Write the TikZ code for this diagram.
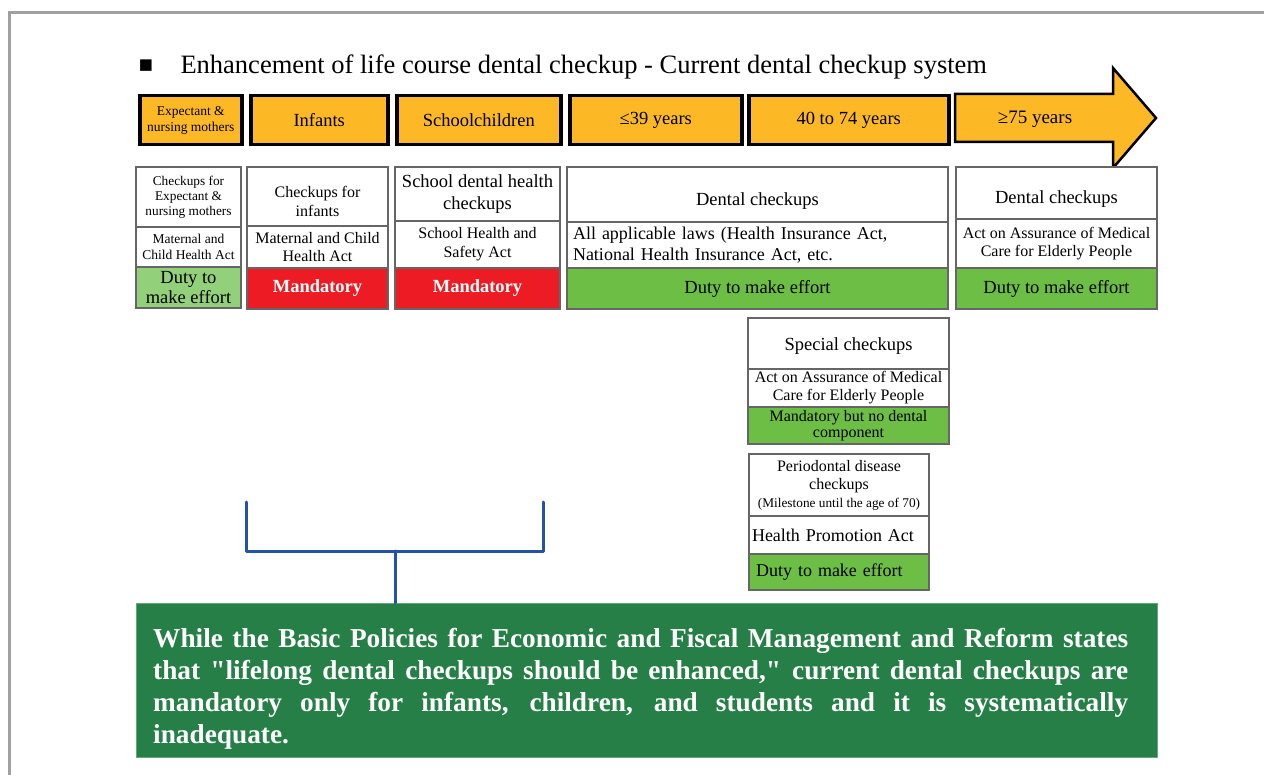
\documentclass[tikz,border=0pt]{standalone}
\usepackage{fontspec}
\setmainfont{Liberation Serif}
\newfontfamily\symfont{DejaVu Sans}

\definecolor{ageorange}{RGB}{253,184,38}
\definecolor{dutygreen}{RGB}{109,190,69}
\definecolor{paleduty}{RGB}{146,208,122}
\definecolor{mustred}{RGB}{237,28,36}
\definecolor{notegreen}{RGB}{38,127,70}
\definecolor{bracketblue}{RGB}{36,83,166}
\definecolor{framegray}{RGB}{160,160,160}

\newcommand\fsz[2]{\fontsize{#1}{#2}\selectfont}

\tikzstyle{agebox}=[rectangle, draw=black, line width=3.5, fill=ageorange, inner sep=0pt, align=center, anchor=north west, font=\fsz{18.5}{21}]
\tikzstyle{cell}=[rectangle, draw=black!60, line width=2, fill=white, inner sep=1pt, align=center, anchor=north west, font=\fsz{18.5}{22}]

\begin{document}
\begin{tikzpicture}[x=1pt, y=-1pt, duty/.style = {cell, fill=dutygreen}, must/.style = {cell, fill=mustred, text=white, font=\fsz{18.5}{21}\bfseries}, bracket/.style = {draw=bracketblue, line width=3, line cap=round, line join=round}]
    \useasboundingbox (0,0) rectangle (1264,775);
    \draw[framegray, line width=3] (9,775) -- (9,13) -- (1264,13);

    % title
    \node (bullet) at (146,66) {\symfont\fsz{15}{15}■};
    \node (title) [anchor=base west, font=\fsz{26.5}{30}] at (177,74) {Enhancement of life course dental checkup - Current dental checkup system};

    % age groups
    \node (mothers) [agebox, minimum width=102, minimum height=49, font=\fsz{13.5}{15.5}] at (138,94) {Expectant \&\\nursing mothers};
    \node (infants) [agebox, minimum width=137, minimum height=49] at (249,94) {Infants};
    \node (school) [agebox, minimum width=164, minimum height=49] at (395,94) {Schoolchildren};
    \node (young) [agebox, minimum width=172, minimum height=49] at (568,94) {≤39 years};
    \node (middle) [agebox, minimum width=200, minimum height=49] at (747,94) {40 to 74 years};
    \draw[fill=ageorange, line width=2.5, line join=miter] (955,94) -- (1113,94) -- (1113,68) -- (1156,118) -- (1113,168) -- (1113,142) -- (955,142) -- cycle;
    \node (elderly) [font=\fsz{19}{21}] at (1035,119) {≥75 years};

    % checkups per group
    \node (motherscheck) [cell, minimum width=105, minimum height=60, font=\fsz{13.3}{14.8}] at (135,166) {Checkups for\\Expectant \&\\nursing mothers};
    \node (motherslaw) [cell, minimum width=105, minimum height=40, font=\fsz{13.5}{15.5}] at (135,226) {Maternal and\\Child Health Act};
    \node (mothersduty) [cell, fill=paleduty, minimum width=105, minimum height=41, font=\fsz{18.5}{20.5}] at (135,266) {Duty to\\make effort};

    \node (infantscheck) [cell, minimum width=141, minimum height=59, font=\fsz{16}{18.5}, text height=40] at (246,166) {Checkups for\\infants};
    \node (infantslaw) [cell, minimum width=141, minimum height=42, font=\fsz{16}{18.5}] at (246,225) {Maternal and Child\\Health Act};
    \node (infantsduty) [must, minimum width=141, minimum height=41] at (246,267) {Mandatory};

    \node (schoolcheck) [cell, minimum width=165, minimum height=54, inner xsep=0pt] at (394,166) {School dental health\\checkups};
    \node (schoollaw) [cell, minimum width=165, minimum height=47, font=\fsz{16}{19}] at (394,220) {School Health and\\Safety Act};
    \node (schoolduty) [must, minimum width=165, minimum height=41] at (394,267) {Mandatory};

    \node (adultcheck) [cell, minimum width=381, minimum height=55, text height=25] at (566,166) {Dental checkups};
    \node (adultlaw) [cell, text width=369, inner xsep=6pt, minimum height=46, align=left, font=\fsz{18}{21}] at (566,221) {All applicable laws (Health Insurance Act,\\National Health Insurance Act, etc.};
    \node (adultduty) [duty, minimum width=381, minimum height=41] at (566,267) {Duty to make effort};

    \node (eldercheck) [cell, minimum width=201, minimum height=52, text height=25] at (955,166) {Dental checkups};
    \node (elderlaw) [cell, minimum width=201, minimum height=49, font=\fsz{16}{18}] at (955,218) {Act on Assurance of Medical\\Care for Elderly People};
    \node (elderduty) [duty, minimum width=201, minimum height=41] at (955,267) {Duty to make effort};

    \node (specialcheck) [cell, minimum width=201, minimum height=51, text height=17] at (747,317) {Special checkups};
    \node (speciallaw) [cell, minimum width=201, minimum height=38, font=\fsz{16}{18}] at (747,368) {Act on Assurance of Medical\\Care for Elderly People};
    \node (specialduty) [duty, minimum width=201, minimum height=37, font=\fsz{16}{16}] at (747,406) {Mandatory but no dental\\component};

    \node (periocheck) [cell, minimum width=180, minimum height=62, font=\fsz{16}{18}] at (748,453) {Periodontal disease\\checkups\\{\fsz{13.3}{15}(Milestone until the age of 70)}};
    \node (periolaw) [cell, text width=174, inner xsep=3pt, minimum height=38, align=left, font=\fsz{18}{20}] at (748,515) {Health Promotion Act};
    \node (perioduty) [duty, text width=172, inner xsep=4pt, minimum height=36, align=left, font=\fsz{18}{20}] at (748,553) {\hspace{3pt}Duty to make effort};

    % summary
    \node (summary) [rectangle, fill=notegreen, draw=notegreen!70, line width=1, anchor=north west, minimum width=1021, minimum height=154] at (136,603) {};
    \node (summarytext) [anchor=north west, inner sep=0pt, text width=975, align=justify, text=white, font=\fsz{27.3}{32}\bfseries] at (153,628) {While the Basic Policies for Economic and Fiscal Management and Reform states\linebreak that \textquotedbl lifelong dental checkups should be enhanced,\textquotedbl{} current dental checkups are\linebreak mandatory only for infants, children, and students and it is systematically\linebreak inadequate.};

    \coordinate (bl) at (246,502);
    \coordinate (br) at (543,502);
    \coordinate (bmid) at (395,551);
    \draw[bracket] (bl) |- (bmid) -| (br);
    \draw[bracket] (bmid) -- (bmid |- summary.north);
\end{tikzpicture}
\end{document}
